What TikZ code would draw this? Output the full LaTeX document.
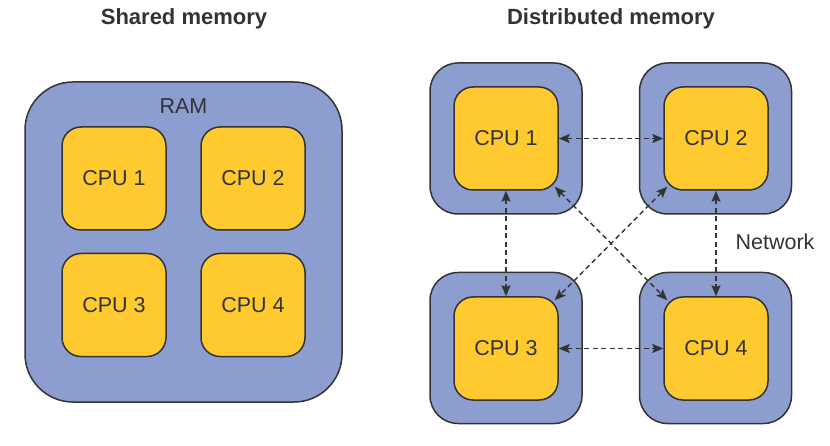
\documentclass[tikz,border=0pt]{standalone}
\usepackage{fontspec}
\setmainfont{Liberation Sans}
\usetikzlibrary{arrows.meta}
\definecolor{ramblue}{RGB}{140,157,208}
\definecolor{cpuyel}{RGB}{255,202,48}
\definecolor{ink}{RGB}{51,51,51}
\tikzset{
  ram/.style={draw=ink, fill=ramblue, line width=1.5pt, rounded corners=48pt, inner sep=0pt},
  outerbox/.style={draw=ink, fill=ramblue, line width=1.5pt, rounded corners=28pt, minimum width=152pt, minimum height=151pt, inner sep=0pt},
  cpubox/.style={draw=ink, fill=cpuyel, line width=1.5pt, rounded corners=19pt, minimum width=104pt, minimum height=103pt, inner sep=0pt, text=ink, font=\fontsize{21.5}{24}\selectfont},
  lbl/.style={text=ink, font=\fontsize{21.5}{24}\selectfont, inner sep=0pt},
  ttl/.style={text=ink, font=\fontsize{22}{26}\selectfont\bfseries, inner sep=0pt},
  net/.style={draw=ink, line width=1.4pt, dash pattern=on 5pt off 3.5pt, {Stealth[length=11pt,width=9pt,inset=2pt]}-{Stealth[length=11pt,width=9pt,inset=2pt]}}
}
\begin{document}
\begin{tikzpicture}[x=1pt,y=-1pt]
\useasboundingbox (0,0) rectangle (830,446);
% titles
\node[ttl] (t1) at (184,19) {Shared memory};
\node[ttl] (t2) at (611,19) {Distributed memory};
% shared memory
\node[ram, minimum width=317pt, minimum height=320pt] (ramb) at (183.5,242) {};
\node[lbl] (raml) at (183.5,106) {RAM};
\node[cpubox] (c1) at (114,178.5) {CPU 1};
\node[cpubox] (c2) at (253,178.5) {CPU 2};
\node[cpubox] (c3) at (114,305) {CPU 3};
\node[cpubox] (c4) at (253,305) {CPU 4};
% distributed memory
\node[outerbox] (o1) at (506,138.5) {};
\node[outerbox] (o2) at (715.5,138.5) {};
\node[outerbox] (o3) at (506,348) {};
\node[outerbox] (o4) at (715.5,348) {};
\node[cpubox] (d1) at (506,138.5) {CPU 1};
\node[cpubox] (d2) at (716,138.5) {CPU 2};
\node[cpubox] (d3) at (506,348.5) {CPU 3};
\node[cpubox] (d4) at (716,348.5) {CPU 4};
\node[lbl] (netl) at (775,242) {Network};
% connectors
\draw[net] (d1.east) -- (d2.west);
\draw[net] (d3.east) -- (d4.west);
\draw[net] (d1.south) -- (d3.north);
\draw[net] (d2.south) -- (d4.north);
\draw[net] ([shift={(-4pt,4pt)}]d1.south east) -- ([shift={(4pt,-4pt)}]d4.north west);
\draw[net] ([shift={(4pt,4pt)}]d2.south west) -- ([shift={(-4pt,-4pt)}]d3.north east);
\end{tikzpicture}
\end{document}
